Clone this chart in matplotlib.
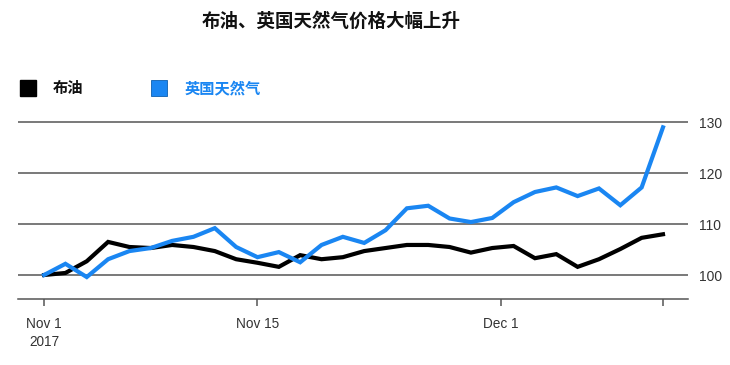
import numpy as np
import matplotlib
matplotlib.use("Agg")
import matplotlib.pyplot as plt
from matplotlib.patches import Rectangle

plt.rcParams['font.family'] = ['Noto Sans CJK SC', 'DejaVu Sans']

# Data: both series indexed to 100 on Nov 1, 2017 (one point per trading day)
brent = [100, 100.4, 102.7, 106.5, 105.5, 105.3, 105.9, 105.5, 104.7, 103.1,
         102.4, 101.6, 103.9, 103.1, 103.5, 104.7, 105.3, 105.9, 105.9, 105.5,
         104.4, 105.3, 105.7, 103.3, 104.1, 101.6, 103.1, 105.1, 107.3, 108.0]
uk_gas = [100, 102.2, 99.6, 103.1, 104.7, 105.3, 106.7, 107.5, 109.2, 105.5,
          103.5, 104.5, 102.5, 105.9, 107.5, 106.3, 108.8, 113.1, 113.6, 111.1,
          110.4, 111.2, 114.3, 116.3, 117.2, 115.5, 117.0, 113.7, 117.2, 129.0]
x_ticks = [0, 10, 21.4, 29]
x_labels = ["Nov 1\n2017", "Nov 15", "Dec 1", ""]
y_ticks = [100, 110, 120, 130]

title = "布油、英国天然气价格大幅上升"
names = ["布油", "英国天然气"]
colors = ["#000000", "#1a86f2"]

fig = plt.figure(figsize=(7.3, 3.65), dpi=100)
ax = fig.add_axes([0.0247, 0.181, 0.918, 0.498])

x = np.arange(len(brent))
ax.plot(x, brent, color=colors[0], lw=3, solid_joinstyle='miter', zorder=3)
ax.plot(x, uk_gas, color=colors[1], lw=3, solid_joinstyle='miter', zorder=4)

ax.set_xlim(-1.22, 30.18)
ax.set_ylim(95.3, 131)

# horizontal grid lines
for v in y_ticks:
    ax.axhline(v, color="#555555", lw=1.1, zorder=1)

for s in ["top", "left", "right"]:
    ax.spines[s].set_visible(False)
ax.spines["bottom"].set_color("#555555")
ax.spines["bottom"].set_linewidth(1.1)

ax.yaxis.tick_right()
ax.set_yticks(y_ticks)
ax.set_yticklabels([str(v) for v in y_ticks], family="Liberation Sans",
                   fontsize=10, color="#333333")
ax.tick_params(axis="y", length=0, pad=8)

ax.set_xticks(x_ticks)
ax.set_xticklabels(x_labels, family="Liberation Sans", fontsize=9.8,
                   color="#333333", linespacing=1.35)
ax.tick_params(axis="x", length=5, width=1.1, color="#555555", pad=8)

fig.text(0.453, 0.942, title, ha="center", va="center",
         fontsize=13.3, fontweight="bold", color="#111111")

# legend
fig.patches.append(Rectangle((20 / 730, 1 - 96 / 365), 16 / 730, 16 / 365,
                             transform=fig.transFigure, color=colors[0]))
fig.text(53 / 730, 1 - 88 / 365, names[0], ha="left", va="center",
         fontsize=11, fontweight="bold", color="#111111")
fig.patches.append(Rectangle((151 / 730, 1 - 96 / 365), 16 / 730, 16 / 365,
                             transform=fig.transFigure, facecolor=colors[1],
                             edgecolor="#0d5fb0", lw=0.6))
fig.text(185 / 730, 1 - 88 / 365, names[1], ha="left", va="center",
         fontsize=11, fontweight="bold", color=colors[1])

fig.savefig("out.png", dpi=100)
